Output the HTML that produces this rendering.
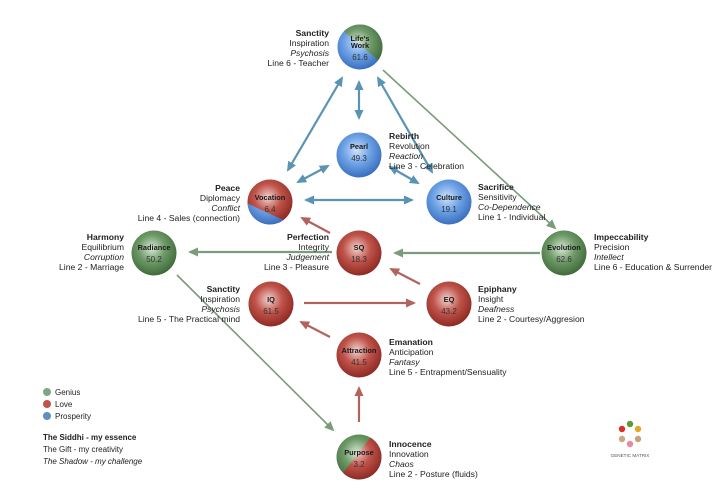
<!DOCTYPE html>
<html><head><meta charset="utf-8"><style>
html,body{margin:0;padding:0;background:#fff;}
svg{display:block;font-family:"Liberation Sans",Arial,sans-serif;}
.t{font-size:8.6px;fill:#222;}
.b{font-weight:bold;}
.i{font-style:italic;}
.n{font-size:7.4px;font-weight:bold;fill:#1a1a1a;text-anchor:middle;}
.v{font-size:8px;fill:#333;text-anchor:middle;}
</style></head><body>
<svg width="723" height="495" viewBox="0 0 723 495">
<defs>
<radialGradient id="gB" cx="45%" cy="40%" r="60%"><stop offset="0" stop-color="#cfe2fa"/><stop offset="0.5" stop-color="#6fa3e6"/><stop offset="1" stop-color="#3a6fbf"/></radialGradient>
<radialGradient id="gR" cx="45%" cy="40%" r="60%"><stop offset="0" stop-color="#f1d3cf"/><stop offset="0.5" stop-color="#c0544b"/><stop offset="1" stop-color="#8e2a24"/></radialGradient>
<radialGradient id="gG" cx="45%" cy="40%" r="60%"><stop offset="0" stop-color="#d8e8d4"/><stop offset="0.5" stop-color="#6e9a68"/><stop offset="1" stop-color="#416a3a"/></radialGradient>
<marker id="aB" markerWidth="10" markerHeight="10" refX="8" refY="5" orient="auto-start-reverse" markerUnits="userSpaceOnUse"><path d="M0,0.5 L10,5 L0,9.5 z" fill="#5b93b3"/></marker>
<marker id="aR" markerWidth="10" markerHeight="10" refX="8" refY="5" orient="auto-start-reverse" markerUnits="userSpaceOnUse"><path d="M0,0.5 L10,5 L0,9.5 z" fill="#b2645c"/></marker>
<marker id="aG" markerWidth="10" markerHeight="10" refX="8" refY="5" orient="auto-start-reverse" markerUnits="userSpaceOnUse"><path d="M0,0.5 L10,5 L0,9.5 z" fill="#7a9c7a"/></marker>
</defs>

<g stroke-width="2.2" fill="none">
<line x1="342" y1="78" x2="288" y2="170" stroke="#5b93b3" marker-start="url(#aB)" marker-end="url(#aB)"/>
<line x1="359" y1="82" x2="359" y2="118" stroke="#5b93b3" marker-start="url(#aB)" marker-end="url(#aB)"/>
<line x1="378" y1="78" x2="432" y2="172" stroke="#5b93b3" marker-start="url(#aB)" marker-end="url(#aB)"/>
<line x1="298" y1="182" x2="328" y2="166" stroke="#5b93b3" marker-start="url(#aB)" marker-end="url(#aB)"/>
<line x1="390" y1="167" x2="418" y2="183" stroke="#5b93b3" marker-start="url(#aB)" marker-end="url(#aB)"/>
<line x1="306" y1="200" x2="412" y2="200" stroke="#5b93b3" marker-start="url(#aB)" marker-end="url(#aB)"/>
<line x1="383" y1="70" x2="555" y2="228" stroke="#7a9c7a" stroke-width="1.6" marker-end="url(#aG)"/>
<line x1="540" y1="253" x2="395" y2="253" stroke="#7a9c7a" marker-end="url(#aG)"/>
<line x1="332" y1="252" x2="190" y2="252" stroke="#7a9c7a" marker-end="url(#aG)"/>
<line x1="177" y1="275" x2="333" y2="430" stroke="#7a9c7a" stroke-width="1.6" marker-end="url(#aG)"/>
<line x1="330" y1="233" x2="302" y2="218" stroke="#b2645c" marker-end="url(#aR)"/>
<line x1="420" y1="284" x2="391" y2="269" stroke="#b2645c" marker-end="url(#aR)"/>
<line x1="304" y1="303" x2="414" y2="303" stroke="#b2645c" marker-end="url(#aR)"/>
<line x1="330" y1="337" x2="301" y2="322" stroke="#b2645c" marker-end="url(#aR)"/>
<line x1="359" y1="422" x2="359" y2="388" stroke="#b2645c" marker-end="url(#aR)"/>
</g>

<clipPath id="cLW"><polygon points="330,20 390,20 390,70"/></clipPath>
<circle cx="360" cy="47" r="22.5" fill="url(#gB)"/>
<circle cx="360" cy="47" r="22.5" fill="url(#gG)" clip-path="url(#cLW)"/>
<clipPath id="cV"><polygon points="240,200 292,224 240,235"/></clipPath>
<circle cx="270" cy="202" r="22.5" fill="url(#gR)"/>
<circle cx="270" cy="202" r="22.5" fill="url(#gB)" clip-path="url(#cV)"/>
<clipPath id="cP"><polygon points="380,425 330,490 395,490 395,425"/></clipPath>
<circle cx="359" cy="457" r="22.5" fill="url(#gG)"/>
<circle cx="359" cy="457" r="22.5" fill="url(#gR)" clip-path="url(#cP)"/>
<circle cx="359" cy="155" r="22.5" fill="url(#gB)"/>
<circle cx="449" cy="202" r="22.5" fill="url(#gB)"/>
<circle cx="154" cy="253" r="22.5" fill="url(#gG)"/>
<circle cx="359" cy="253" r="22.5" fill="url(#gR)"/>
<circle cx="564" cy="253" r="22.5" fill="url(#gG)"/>
<circle cx="271" cy="304" r="22.5" fill="url(#gR)"/>
<circle cx="449" cy="304" r="22.5" fill="url(#gR)"/>
<circle cx="359" cy="355" r="22.5" fill="url(#gR)"/>

<text class="n" x="360" y="41">Life's</text><text class="n" x="360" y="48">Work</text><text class="v" x="360" y="60">61.6</text>
<text class="n" x="359" y="149">Pearl</text><text class="v" x="359" y="161">49.3</text>
<text class="n" x="270" y="200">Vocation</text><text class="v" x="270" y="212">6.4</text>
<text class="n" x="449" y="200">Culture</text><text class="v" x="449" y="212">19.1</text>
<text class="n" x="154" y="250">Radiance</text><text class="v" x="154" y="262">50.2</text>
<text class="n" x="359" y="250">SQ</text><text class="v" x="359" y="262">18.3</text>
<text class="n" x="564" y="250">Evolution</text><text class="v" x="564" y="262">62.6</text>
<text class="n" x="271" y="302">IQ</text><text class="v" x="271" y="314">61.5</text>
<text class="n" x="449" y="302">EQ</text><text class="v" x="449" y="314">43.2</text>
<text class="n" x="359" y="353">Attraction</text><text class="v" x="359" y="365">41.5</text>
<text class="n" x="359" y="455">Purpose</text><text class="v" x="359" y="467">3.2</text>

<g class="t" text-anchor="end">
<text x="329" y="36" class="b">Sanctity</text><text x="329" y="46">Inspiration</text><text x="329" y="56" class="i">Psychosis</text><text x="329" y="66">Line 6 - Teacher</text>
<text x="240" y="191" class="b">Peace</text><text x="240" y="201">Diplomacy</text><text x="240" y="211" class="i">Conflict</text><text x="240" y="221">Line 4 - Sales (connection)</text>
<text x="124" y="240" class="b">Harmony</text><text x="124" y="250">Equilibrium</text><text x="124" y="260" class="i">Corruption</text><text x="124" y="270">Line 2 - Marriage</text>
<text x="329" y="240" class="b">Perfection</text><text x="329" y="250">Integrity</text><text x="329" y="260" class="i">Judgement</text><text x="329" y="270">Line 3 - Pleasure</text>
<text x="240" y="292" class="b">Sanctity</text><text x="240" y="302">Inspiration</text><text x="240" y="312" class="i">Psychosis</text><text x="240" y="322">Line 5 - The Practical mind</text>
</g>
<g class="t">
<text x="389" y="139" class="b">Rebirth</text><text x="389" y="149">Revolution</text><text x="389" y="159" class="i">Reaction</text><text x="389" y="169">Line 3 - Celebration</text>
<text x="478" y="190" class="b">Sacrifice</text><text x="478" y="200">Sensitivity</text><text x="478" y="210" class="i">Co-Dependence</text><text x="478" y="220">Line 1 - Individual</text>
<text x="594" y="240" class="b">Impeccability</text><text x="594" y="250">Precision</text><text x="594" y="260" class="i">Intellect</text><text x="594" y="270">Line 6 - Education &amp; Surrender</text>
<text x="478" y="292" class="b">Epiphany</text><text x="478" y="302">Insight</text><text x="478" y="312" class="i">Deafness</text><text x="478" y="322">Line 2 - Courtesy/Aggresion</text>
<text x="389" y="345" class="b">Emanation</text><text x="389" y="355">Anticipation</text><text x="389" y="365" class="i">Fantasy</text><text x="389" y="375">Line 5 - Entrapment/Sensuality</text>
<text x="389" y="447" class="b">Innocence</text><text x="389" y="457">Innovation</text><text x="389" y="467" class="i">Chaos</text><text x="389" y="477">Line 2 - Posture (fluids)</text>
</g>

<circle cx="47" cy="392" r="4" fill="#7fa77f"/><circle cx="47" cy="404" r="4" fill="#c0524a"/><circle cx="47" cy="416" r="4" fill="#5d90bf"/>
<g class="t" style="font-size:8px">
<text x="55" y="395">Genius</text><text x="55" y="407">Love</text><text x="55" y="419">Prosperity</text>
<text x="43" y="440" class="b">The Siddhi - my essence</text><text x="43" y="452">The Gift - my creativity</text><text x="43" y="464" class="i">The Shadow - my challenge</text>
</g>

<g>
<circle cx="630" cy="424" r="3.2" fill="#5a9a3a"/>
<circle cx="638" cy="429" r="3.2" fill="#e0a92a"/>
<circle cx="638" cy="439" r="3.2" fill="#c8a27a"/>
<circle cx="630" cy="444" r="3.2" fill="#e58aa0"/>
<circle cx="622" cy="439" r="3.2" fill="#c9a88a"/>
<circle cx="622" cy="429" r="3.2" fill="#d6302a"/>
<text x="630" y="457" text-anchor="middle" style="font-size:4.6px;fill:#555">GENETIC MATRIX</text>
</g>
</svg>
</body></html>
